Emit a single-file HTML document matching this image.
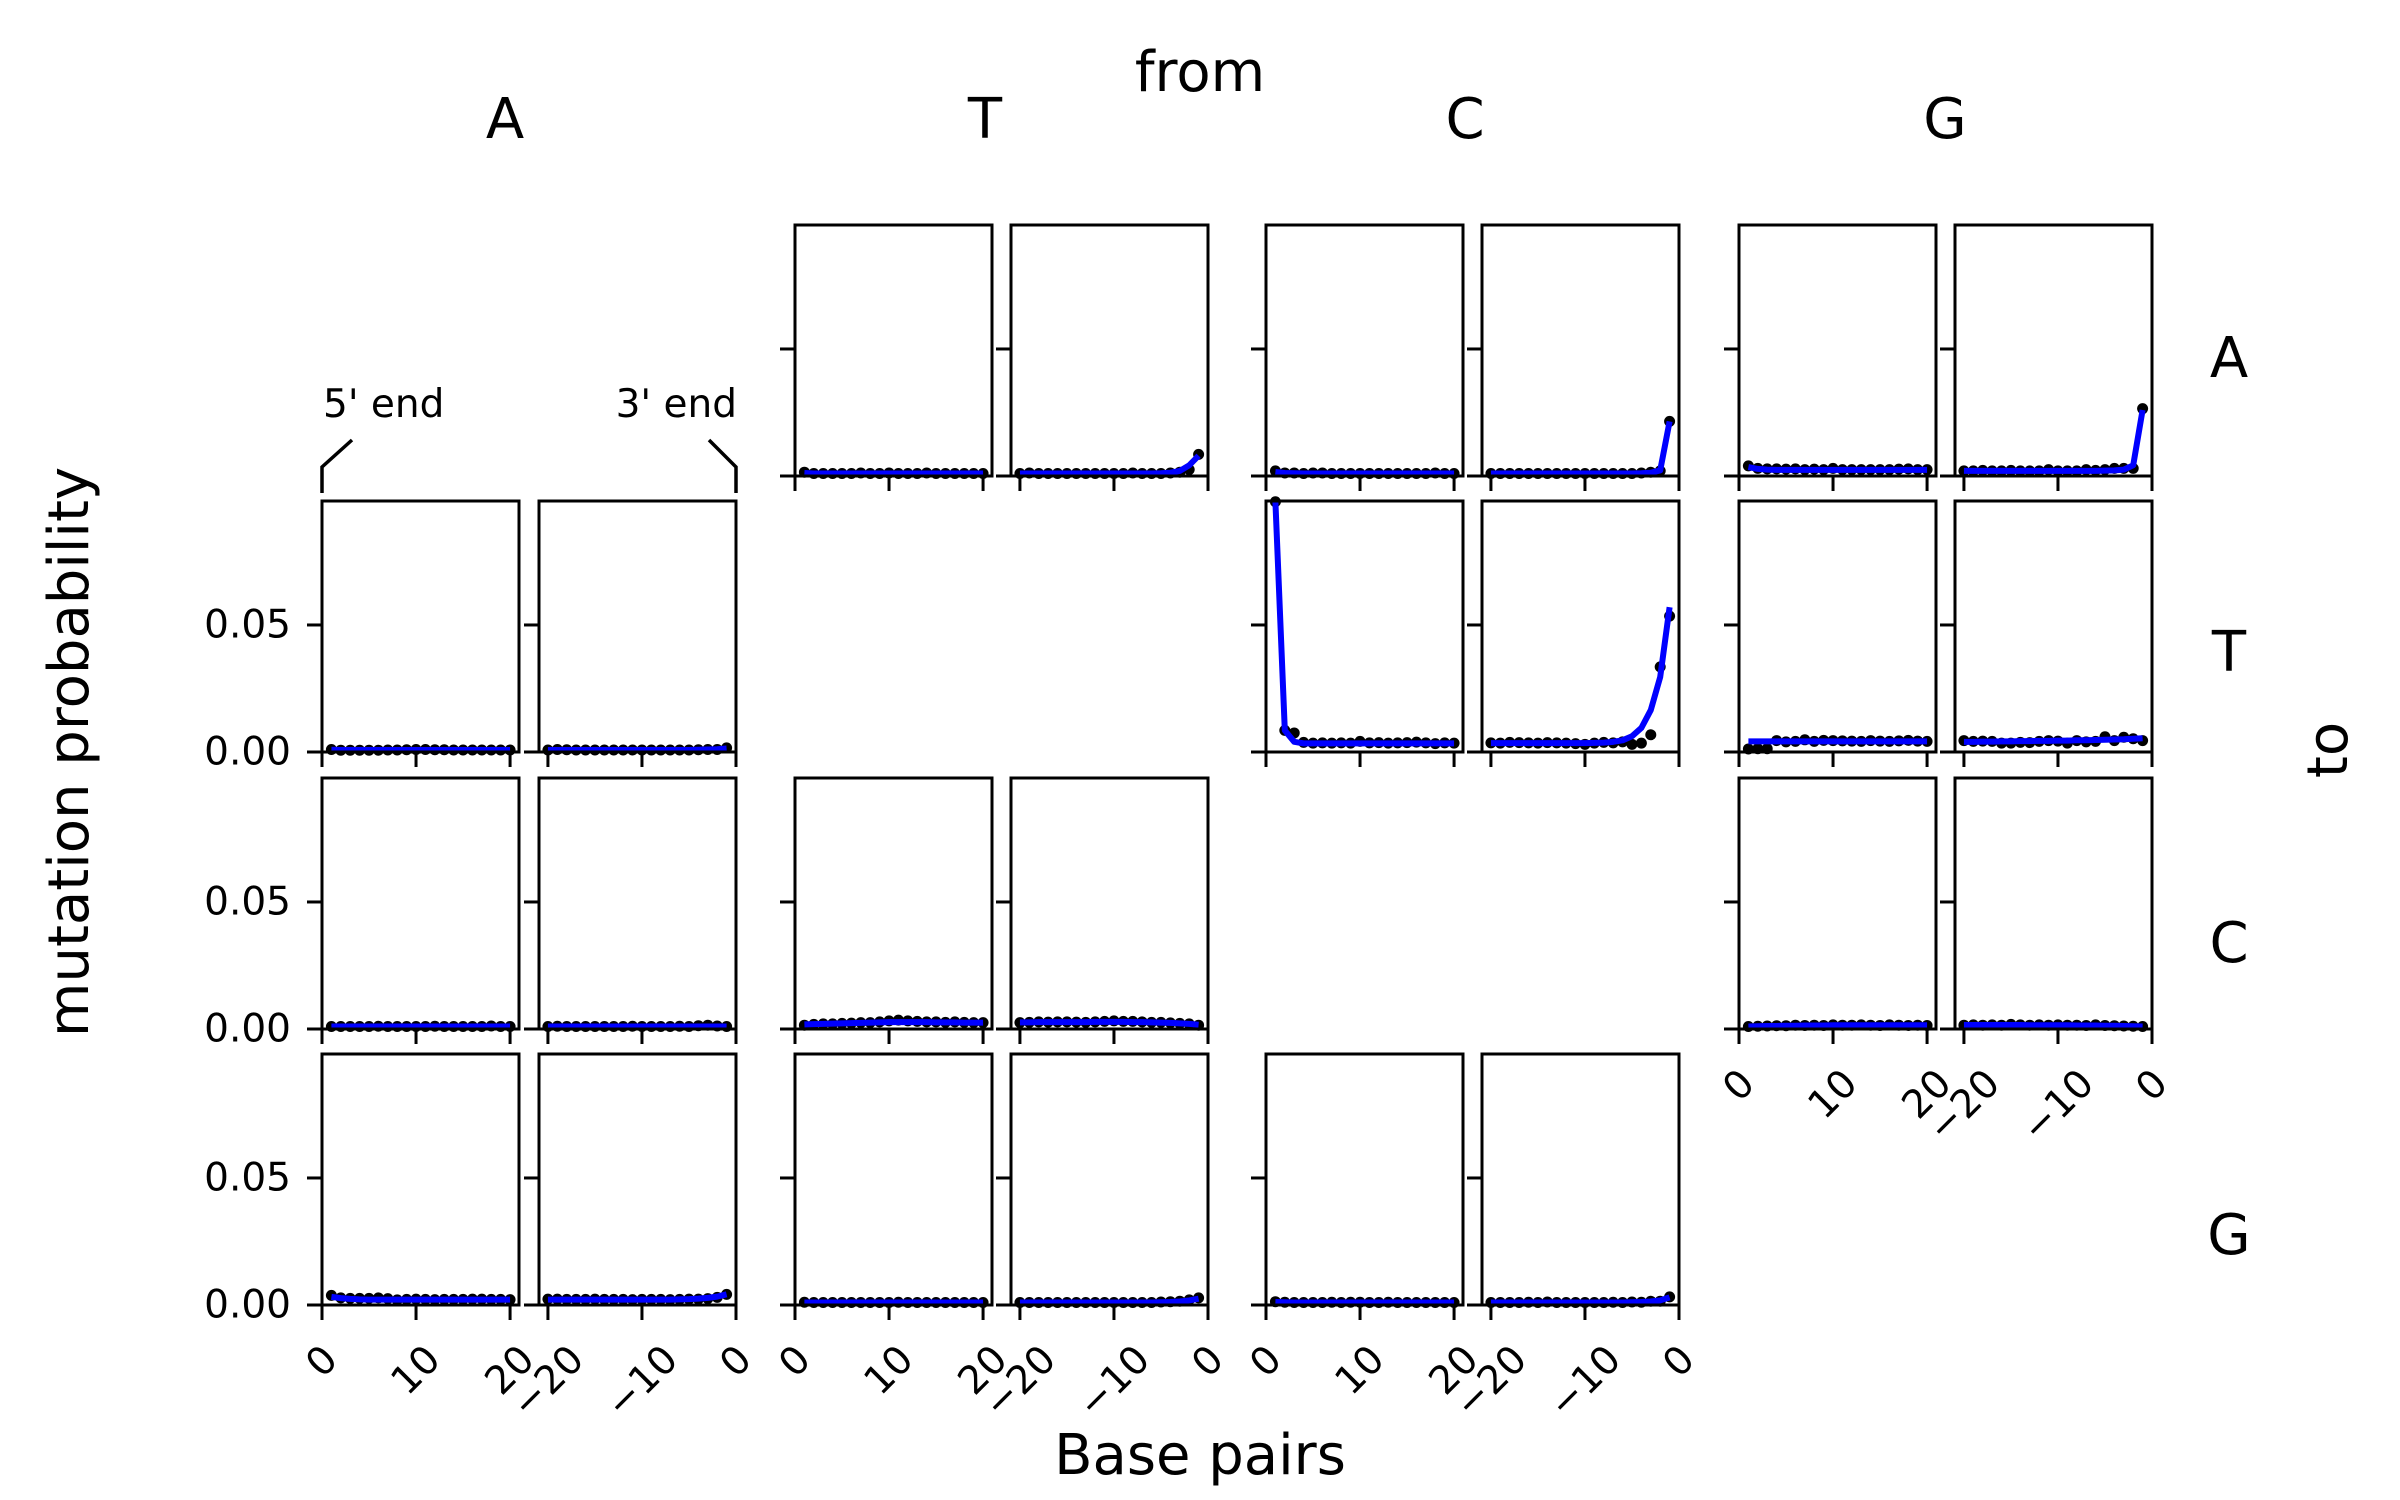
<!DOCTYPE html>
<html><head><meta charset="utf-8">
<style>
html,body{margin:0;padding:0;background:#fff;}
svg{display:block;font-family:"DejaVu Sans","Liberation Sans",sans-serif;}
</style></head>
<body>
<svg id="fig" width="2400" height="1500" viewBox="0 0 2400 1500" xmlns="http://www.w3.org/2000/svg">
<rect width="2400" height="1500" fill="#fff"/>
<text x="1200" y="91" font-size="56" text-anchor="middle">from</text>
<text x="505" y="138" font-size="56" text-anchor="middle">A</text>
<text x="985" y="138" font-size="56" text-anchor="middle">T</text>
<text x="1465" y="138" font-size="56" text-anchor="middle">C</text>
<text x="1945" y="138" font-size="56" text-anchor="middle">G</text>
<text x="2229" y="377" font-size="56" text-anchor="middle">A</text>
<text x="2229" y="671" font-size="56" text-anchor="middle">T</text>
<text x="2229" y="962" font-size="56" text-anchor="middle">C</text>
<text x="2229" y="1254" font-size="56" text-anchor="middle">G</text>
<text transform="translate(2347,750) rotate(-90)" font-size="56" text-anchor="middle">to</text>
<text transform="translate(88,752) rotate(-90)" font-size="56" text-anchor="middle">mutation probability</text>
<text x="1200" y="1474" font-size="56" text-anchor="middle">Base pairs</text>
<text x="323" y="417" font-size="39">5' end</text>
<text x="737" y="417" font-size="39" text-anchor="end">3' end</text>
<polyline points="322,493 322,467 352,440" fill="none" stroke="#000" stroke-width="3.5"/>
<polyline points="736,493 736,467 709,440" fill="none" stroke="#000" stroke-width="3.5"/>
<g id="panels"></g>
</svg>
<script>
// observed values (dots) and fitted values (line), positions 1..20 (5') and -20..-1 (3')
const pos5 = [1,2,3,4,5,6,7,8,9,10,11,12,13,14,15,16,17,18,19,20];
const pos3 = [-20,-19,-18,-17,-16,-15,-14,-13,-12,-11,-10,-9,-8,-7,-6,-5,-4,-3,-2,-1];
const yTicks = [0, 0.05];
const yTickLabels = ["0.00", "0.05"];
const xTicks5 = [0, 10, 20];
const xTickLabels5 = ["0", "10", "20"];
const xTicks3 = [-20, -10, 0];
const xTickLabels3 = ["\u221220", "\u221210", "0"];
const bases = ["A","T","C","G"];

// from T to A
const obs_TA5 = [0.0015,0.001,0.001,0.001,0.001,0.001,0.0012,0.001,0.001,0.0012,0.001,0.001,0.001,0.0012,0.001,0.001,0.001,0.001,0.001,0.001];
const fit_TA5 = [0.0012,0.001,0.001,0.001,0.001,0.001,0.001,0.001,0.001,0.001,0.001,0.001,0.001,0.001,0.001,0.001,0.001,0.001,0.001,0.001];
const obs_TA3 = [0.001,0.0012,0.001,0.001,0.001,0.001,0.001,0.001,0.001,0.001,0.001,0.001,0.0012,0.001,0.001,0.001,0.0012,0.0015,0.0025,0.0085];
const fit_TA3 = [0.001,0.001,0.001,0.001,0.001,0.001,0.001,0.001,0.001,0.001,0.001,0.001,0.001,0.001,0.001,0.0011,0.0013,0.002,0.0042,0.008];
// from C to A
const obs_CA5 = [0.002,0.0012,0.0012,0.001,0.0012,0.0012,0.001,0.001,0.001,0.001,0.001,0.001,0.001,0.001,0.001,0.001,0.001,0.0012,0.001,0.001];
const fit_CA5 = [0.0016,0.0012,0.0011,0.001,0.001,0.001,0.001,0.001,0.001,0.001,0.001,0.001,0.001,0.001,0.001,0.001,0.001,0.001,0.001,0.001];
const obs_CA3 = [0.001,0.001,0.001,0.001,0.001,0.001,0.001,0.001,0.001,0.001,0.001,0.001,0.001,0.001,0.001,0.001,0.0012,0.0015,0.002,0.0215];
const fit_CA3 = [0.001,0.001,0.001,0.001,0.001,0.001,0.001,0.001,0.001,0.001,0.001,0.001,0.001,0.001,0.001,0.001,0.0011,0.0013,0.0022,0.0215];
// from G to A
const obs_GA5 = [0.004,0.003,0.0028,0.0028,0.0027,0.0028,0.0025,0.0027,0.0025,0.003,0.0025,0.0025,0.0025,0.0025,0.0025,0.0025,0.0027,0.0028,0.0025,0.0025];
const fit_GA5 = [0.0035,0.0028,0.0025,0.0024,0.0024,0.0024,0.0024,0.0024,0.0024,0.0024,0.0024,0.0024,0.0024,0.0024,0.0024,0.0024,0.0024,0.0024,0.0024,0.0024];
const obs_GA3 = [0.002,0.002,0.0022,0.002,0.002,0.0022,0.002,0.002,0.002,0.0025,0.002,0.002,0.002,0.0025,0.0022,0.0025,0.003,0.003,0.003,0.0265];
const fit_GA3 = [0.002,0.002,0.002,0.002,0.002,0.002,0.002,0.002,0.002,0.002,0.002,0.002,0.002,0.002,0.002,0.0021,0.0022,0.0025,0.0042,0.026];
// from A to T
const obs_AT5 = [0.001,0.0007,0.0007,0.0007,0.0007,0.0007,0.0008,0.0008,0.0009,0.001,0.001,0.0009,0.0009,0.0008,0.0008,0.0008,0.0008,0.0008,0.0008,0.0008];
const fit_AT5 = [0.0009,0.0008,0.0008,0.0008,0.0008,0.0008,0.0008,0.0008,0.0008,0.0008,0.0008,0.0008,0.0008,0.0008,0.0008,0.0008,0.0008,0.0008,0.0008,0.0008];
const obs_AT3 = [0.0008,0.001,0.0009,0.0008,0.0008,0.0008,0.0008,0.0008,0.0008,0.0008,0.0008,0.0008,0.0008,0.0008,0.0008,0.0008,0.0009,0.001,0.001,0.0016];
const fit_AT3 = [0.0008,0.0008,0.0008,0.0008,0.0008,0.0008,0.0008,0.0008,0.0008,0.0008,0.0008,0.0008,0.0008,0.0008,0.0008,0.0008,0.0009,0.001,0.0011,0.0014];
// from C to T
const obs_CT5 = [0.0985,0.0085,0.0075,0.0038,0.0035,0.0036,0.0035,0.0036,0.0035,0.0042,0.0036,0.0037,0.0035,0.0036,0.0037,0.0039,0.0036,0.0033,0.0036,0.0035];
const fit_CT5 = [0.0985,0.0085,0.004,0.0034,0.0034,0.0034,0.0034,0.0034,0.0034,0.0034,0.0034,0.0034,0.0034,0.0034,0.0034,0.0034,0.0034,0.0034,0.0034,0.0034];
const obs_CT3 = [0.0036,0.0035,0.0038,0.0037,0.0036,0.0035,0.0037,0.0036,0.0035,0.0033,0.003,0.0035,0.0038,0.0036,0.004,0.003,0.0035,0.0068,0.0335,0.0535];
const fit_CT3 = [0.0035,0.0035,0.0035,0.0035,0.0035,0.0035,0.0035,0.0035,0.0035,0.0035,0.0035,0.0036,0.0037,0.004,0.0046,0.0062,0.0095,0.0165,0.0295,0.057];
// from G to T
const obs_GT5 = [0.0012,0.0013,0.0013,0.0045,0.004,0.0042,0.0048,0.0042,0.0046,0.0045,0.0044,0.0043,0.0042,0.0045,0.0043,0.0042,0.0044,0.0046,0.0043,0.0042];
const fit_GT5 = [0.0042,0.0042,0.0042,0.0042,0.0042,0.0042,0.0042,0.0042,0.0042,0.0042,0.0042,0.0042,0.0042,0.0042,0.0042,0.0042,0.0042,0.0042,0.0042,0.0042];
const obs_GT3 = [0.0045,0.0042,0.0043,0.0042,0.0035,0.0035,0.0038,0.0037,0.0042,0.0045,0.0043,0.0035,0.0045,0.004,0.0042,0.006,0.0045,0.0058,0.0052,0.0045];
const fit_GT3 = [0.004,0.004,0.0041,0.0041,0.0042,0.0042,0.0043,0.0043,0.0044,0.0044,0.0045,0.0045,0.0046,0.0046,0.0047,0.0048,0.0049,0.005,0.0052,0.0054];
// from A to C
const obs_AC5 = [0.001,0.001,0.001,0.001,0.001,0.0011,0.001,0.001,0.001,0.001,0.001,0.0011,0.001,0.001,0.001,0.001,0.001,0.0012,0.001,0.001];
const fit_AC5 = [0.001,0.001,0.001,0.001,0.001,0.001,0.001,0.001,0.001,0.001,0.001,0.001,0.001,0.001,0.001,0.001,0.001,0.001,0.001,0.001];
const obs_AC3 = [0.001,0.0011,0.001,0.001,0.001,0.001,0.001,0.001,0.001,0.0011,0.001,0.001,0.001,0.001,0.0011,0.001,0.0013,0.0015,0.0012,0.001];
const fit_AC3 = [0.001,0.001,0.001,0.001,0.001,0.001,0.001,0.001,0.001,0.001,0.001,0.001,0.001,0.001,0.001,0.001,0.001,0.001,0.001,0.001];
// from T to C
const obs_TC5 = [0.0015,0.0018,0.002,0.002,0.0022,0.0023,0.0025,0.0025,0.0028,0.0032,0.0035,0.0032,0.003,0.0028,0.0028,0.0026,0.0028,0.0026,0.0025,0.0025];
const fit_TC5 = [0.0018,0.0019,0.002,0.0021,0.0022,0.0023,0.0024,0.0025,0.0026,0.0027,0.0027,0.0027,0.0027,0.0027,0.0026,0.0026,0.0026,0.0025,0.0025,0.0025];
const obs_TC3 = [0.0025,0.0026,0.0028,0.0027,0.0028,0.0028,0.0027,0.0026,0.0028,0.003,0.0032,0.003,0.003,0.0028,0.0026,0.0026,0.0024,0.0022,0.002,0.0015];
const fit_TC3 = [0.0026,0.0026,0.0027,0.0027,0.0027,0.0027,0.0027,0.0027,0.0028,0.0028,0.0028,0.0028,0.0027,0.0027,0.0026,0.0025,0.0024,0.0022,0.002,0.0017];
// from G to C
const obs_GC5 = [0.001,0.0011,0.0012,0.0013,0.0013,0.0015,0.0014,0.0015,0.0014,0.0016,0.0015,0.0015,0.0016,0.0015,0.0014,0.0016,0.0015,0.0014,0.0015,0.0014];
const fit_GC5 = [0.001,0.0011,0.0012,0.0012,0.0013,0.0013,0.0014,0.0014,0.0014,0.0015,0.0015,0.0015,0.0015,0.0015,0.0015,0.0015,0.0015,0.0015,0.0015,0.0015];
const obs_GC3 = [0.0015,0.0016,0.0015,0.0016,0.0015,0.0018,0.0016,0.0015,0.0016,0.0015,0.0016,0.0015,0.0015,0.0014,0.0016,0.0014,0.0013,0.0012,0.0011,0.001];
const fit_GC3 = [0.0016,0.0016,0.0016,0.0016,0.0016,0.0016,0.0016,0.0015,0.0015,0.0015,0.0015,0.0015,0.0014,0.0014,0.0014,0.0013,0.0013,0.0012,0.0011,0.001];
// from A to G
const obs_AG5 = [0.0038,0.0028,0.0026,0.0026,0.0026,0.0028,0.0025,0.002,0.0022,0.0023,0.0022,0.0021,0.0022,0.0022,0.0022,0.0023,0.0023,0.0022,0.0022,0.0021];
const fit_AG5 = [0.0032,0.0027,0.0024,0.0022,0.0021,0.0021,0.0021,0.0021,0.0021,0.0021,0.0021,0.0021,0.0021,0.0021,0.0021,0.0021,0.0021,0.0021,0.0021,0.0021];
const obs_AG3 = [0.0023,0.0023,0.0022,0.0022,0.0022,0.0023,0.0022,0.0022,0.0022,0.0021,0.0022,0.0022,0.0022,0.0021,0.0022,0.0023,0.0023,0.0025,0.003,0.0042];
const fit_AG3 = [0.0021,0.0021,0.0021,0.0021,0.0021,0.0021,0.0021,0.0021,0.0021,0.0021,0.0021,0.0021,0.0021,0.0021,0.0022,0.0023,0.0025,0.0028,0.0033,0.0042];
// from T to G
const obs_TG5 = [0.0011,0.001,0.001,0.001,0.001,0.001,0.001,0.001,0.001,0.001,0.0011,0.001,0.001,0.001,0.001,0.001,0.001,0.001,0.001,0.001];
const fit_TG5 = [0.001,0.001,0.001,0.001,0.001,0.001,0.001,0.001,0.001,0.001,0.001,0.001,0.001,0.001,0.001,0.001,0.001,0.001,0.001,0.001];
const obs_TG3 = [0.001,0.001,0.001,0.001,0.001,0.001,0.001,0.001,0.001,0.001,0.001,0.001,0.001,0.001,0.001,0.0012,0.0013,0.0015,0.002,0.0028];
const fit_TG3 = [0.001,0.001,0.001,0.001,0.001,0.001,0.001,0.001,0.001,0.001,0.001,0.001,0.001,0.001,0.001,0.0011,0.0012,0.0014,0.0018,0.0025];
// from C to G
const obs_CG5 = [0.0013,0.0011,0.001,0.001,0.001,0.001,0.0011,0.001,0.0011,0.0011,0.001,0.001,0.0011,0.001,0.001,0.001,0.001,0.001,0.001,0.001];
const fit_CG5 = [0.0012,0.0011,0.001,0.001,0.001,0.001,0.001,0.001,0.001,0.001,0.001,0.001,0.001,0.001,0.001,0.001,0.001,0.001,0.001,0.001];
const obs_CG3 = [0.001,0.001,0.001,0.001,0.0011,0.001,0.0012,0.001,0.001,0.001,0.001,0.001,0.001,0.0011,0.001,0.0012,0.0011,0.0015,0.0015,0.0032];
const fit_CG3 = [0.001,0.001,0.001,0.001,0.001,0.001,0.001,0.001,0.001,0.001,0.001,0.001,0.001,0.001,0.001,0.0011,0.0012,0.0014,0.0018,0.003];

const seriesTable = {
  "T-A":[obs_TA5,fit_TA5,obs_TA3,fit_TA3], "C-A":[obs_CA5,fit_CA5,obs_CA3,fit_CA3], "G-A":[obs_GA5,fit_GA5,obs_GA3,fit_GA3],
  "A-T":[obs_AT5,fit_AT5,obs_AT3,fit_AT3], "C-T":[obs_CT5,fit_CT5,obs_CT3,fit_CT3], "G-T":[obs_GT5,fit_GT5,obs_GT3,fit_GT3],
  "A-C":[obs_AC5,fit_AC5,obs_AC3,fit_AC3], "T-C":[obs_TC5,fit_TC5,obs_TC3,fit_TC3], "G-C":[obs_GC5,fit_GC5,obs_GC3,fit_GC3],
  "A-G":[obs_AG5,fit_AG5,obs_AG3,fit_AG3], "T-G":[obs_TG5,fit_TG5,obs_TG3,fit_TG3], "C-G":[obs_CG5,fit_CG5,obs_CG3,fit_CG3]
};

const NS = "http://www.w3.org/2000/svg";
const root = document.getElementById("panels");
const colLeft = {A:[322,539], T:[795,1011], C:[1266,1482], G:[1739,1955]};
const rowTop = {A:225, T:501, C:778, G:1054};
const PW = 197, PH = 251;
const YMAX = 0.0988;
const XPAD = 20.95;

function mk(tag, attrs, parent){
  const e = document.createElementNS(NS, tag);
  for (const k in attrs) e.setAttribute(k, attrs[k]);
  parent.appendChild(e);
  return e;
}
function yScale(v, top){ return top + PH - (v / YMAX) * PH; }
function xScale5(v, left){ return left + (v / XPAD) * PW; }
function xScale3(v, left){ return left + ((v + XPAD) / XPAD) * PW; }

function lastRowFor(from){ return from === "G" ? "C" : "G"; }

bases.forEach(from => {
  bases.forEach(to => {
    if (from === to) return;
    const data = seriesTable[from + "-" + to];
    const top = rowTop[to];
    [0,1].forEach(side => {
      const left = colLeft[from][side];
      const xs = side === 0 ? xScale5 : xScale3;
      const positions = side === 0 ? pos5 : pos3;
      const obs = data[side*2], fit = data[side*2+1];
      const g = mk("g", {}, root);
      
      
      yTicks.forEach((t, i) => {
        const y = yScale(t, top);
        const tk = mk("line", {x1:left-15, x2:left, y1:y, y2:y, stroke:"#000", "stroke-width":3}, g);
        
        
        if (from === "A" && side === 0) {
          const lb = mk("text", {x:left-31, y:y, "font-size":39, "text-anchor":"end", "dominant-baseline":"central"}, g);
          lb.textContent = yTickLabels[i];
          
          
        }
      });
      const ticks = side === 0 ? xTicks5 : xTicks3;
      const tlabels = side === 0 ? xTickLabels5 : xTickLabels3;
      ticks.forEach((t, i) => {
        const x = xs(t, left);
        const tk = mk("line", {x1:x, x2:x, y1:top+PH, y2:top+PH+15, stroke:"#000", "stroke-width":3}, g);
        
        
        if (to === lastRowFor(from)) {
          const lb = mk("text", {x:0, y:0, "font-size":39, "text-anchor":"middle", "dominant-baseline":"central"}, g);
          lb.textContent = tlabels[i];
          
          
          const adv = lb.getComputedTextLength();
          const h = (adv + 28) * 0.7071;
          lb.setAttribute("transform", "translate(" + x + "," + (top + PH + 38 + h/2) + ") rotate(-45)");
        }
      });
      const pts = positions.map((p, i) => xs(p, left).toFixed(2) + "," + yScale(fit[i], top).toFixed(2)).join(" ");
      positions.forEach((p, i) => {
        const c = mk("circle", {cx:xs(p, left), cy:yScale(obs[i], top), r:5.5, fill:"#000"}, g);
        
        
      });
      const pl = mk("polyline", {points:pts, fill:"none", stroke:"#0000ff", "stroke-width":6, "stroke-linejoin":"round"}, g);
      
      
      const fr = mk("rect", {x:left, y:top, width:PW, height:PH, fill:"none", stroke:"#000", "stroke-width":3}, g);
      
      
    });
  });
});
</script>
</body></html>
